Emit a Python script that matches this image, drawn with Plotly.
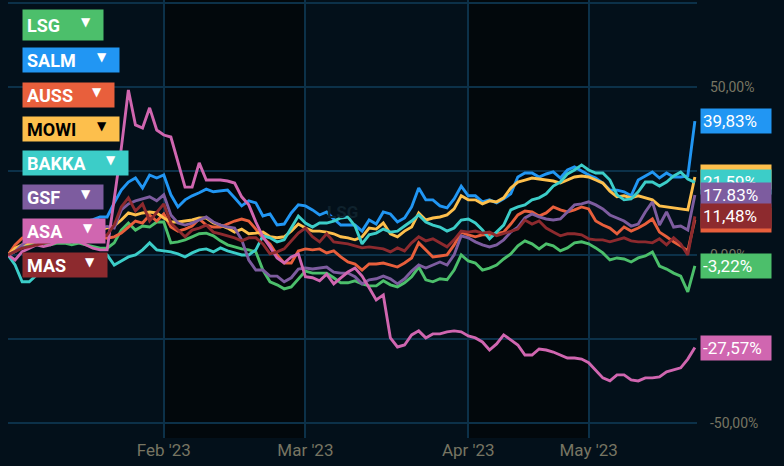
import plotly.graph_objects as go
import pandas as pd

# trading days on Oslo Børs, Jan 2 - May 25 2023
holidays = ["2023-04-06", "2023-04-07", "2023-04-10", "2023-05-01", "2023-05-17", "2023-05-18"]
dates = pd.bdate_range("2023-01-02", "2023-05-25", freq="C", holidays=holidays).strftime("%Y-%m-%d").tolist()

# % change since start
lsg = [0, 1.5, 2.5, 3, 3, 3.5, 3, 3.5, 3.5, 3, 3.5, 3, 2.5, 2, 2,
       3.6, 7.4, 9.5, 7.4, 8.6, 8.3, 9.8, 9.8, 3.6, 3.9, 4.5, 5.4, 6.3, 6.5, 5.7, 4.2, 3.0, 2.4, 1.8, 1.5, 0.9,
       -4.5, -8.0, -8.9, -10.1, -9.5, -7.1, -4.8, -5.4, -5.4, -5.4, -6.8, -8.3, -8.3, -7.7, -8.6, -9.2, -9.2, -7.7,
       -8.9, -9.5, -8.3, -6.5, -3.6, -7.4, -8.0, -7.1, -7.4, -4.5, 0, -1.8, -2.4, -4.5, -3.9, -3.0, -1.2, 0.3, 2.7,
       4.2, 3.3, 1.8, 3.3, 2.7, 1.2, 2.1, 3.6, 3.9, 3.3, 2.1, 0.6, -1.5, -0.9, -1.2, -2.1, -0.9, -0.3, 0.9, -3.3,
       -4.2, -5.4, -6.3, -11.0, -3.22]
salm = [0, 1, 2.5, 4, 5, 6, 7, 7.5, 8, 8.5, 9, 10, 10.5, 11.3, 11.3,
        15.5, 19.3, 21.7, 22.9, 19.9, 23.8, 22.9, 23.8, 17.9, 14.3, 16.4, 17.6, 18.5, 19.6, 18.8, 19.0, 19.3, 17.0, 14.6, 16.1, 15.5,
        11.6, 12.2, 8.9, 9.2, 12.5, 14.9, 14.6, 13.4, 11.9, 12.8, 10.7, 8.9, 8.9, 8.9, 7.1, 10.4, 9.2, 12.8, 12.2, 9.8,
        11.0, 14.3, 19.9, 16.4, 16.4, 14.6, 14.0, 16.7, 20.5, 17.6, 17.6, 15.8, 16.4, 15.5, 16.7, 18.2, 23.2, 24.4,
        24.4, 23.2, 24.1, 24.7, 22.9, 25.3, 26.2, 25.0, 23.8, 22.9, 21.4, 19.3, 19.3, 18.8, 17.6, 22.3, 23.5, 24.7,
        22.9, 24.4, 23.2, 23.2, 23.5, 39.83]
auss = [0, 3, 5, 5.5, 6, 6, 6.5, 7, 7, 6.5, 6, 6, 5.5, 5.5, 5,
        5.4, 6.5, 8.3, 10.1, 9.5, 11.9, 10.1, 12.2, 8.3, 7.1, 7.7, 8.6, 10.7, 8.9, 8.3, 8.3, 9.2, 10.1, 10.7, 10.1, 7.7,
        5.1, 3.3, 0, -2.4, -2.4, 1.2, 1.8, 1.5, 1.8, 0.6, 1.2, -0.6, -2.1, -2.7, -4.5, -2.7, -2.7, -2.4, -3.0, -3.6,
        -2.4, -0.9, 3.6, 1.5, -0.6, -0.3, 0, 3.0, 6.8, 6.0, 5.4, 6.0, 6.0, 6.3, 6.8, 9.2, 11.9, 13.1, 12.8, 11.6,
        12.5, 14.3, 13.4, 12.8, 13.4, 14.3, 13.7, 10.1, 8.9, 8.0, 6.3, 8.3, 7.1, 8.0, 9.2, 10.7, 6.8, 5.4, 3.9, 2.7,
        1.2, 10.5]
mowi = [0, 2, 3, 3.5, 4, 4.5, 5, 5, 5.5, 6, 6.5, 7, 7, 7.5, 8,
        8.6, 10.4, 12.5, 11.9, 12.5, 12.8, 12.5, 11.0, 9.8, 9.8, 10.1, 10.4, 11.0, 11.0, 9.5, 8.9, 8.0, 6.8, 7.7, 6.3, 6.5,
        6.8, 5.4, 5.1, 5.4, 7.1, 9.2, 8.0, 7.1, 7.1, 6.8, 6.3, 5.4, 5.1, 4.5, 5.4, 8.0, 7.7, 9.5, 6.3, 5.4, 7.1, 8.3,
        12.5, 10.4, 11.0, 11.3, 11.9, 13.7, 17.6, 16.4, 16.4, 15.2, 16.1, 15.8, 17.0, 19.9, 21.7, 22.3, 22.9, 22.6,
        22.3, 22.0, 21.4, 22.3, 23.2, 23.5, 23.2, 22.3, 21.4, 19.0, 17.3, 17.6, 17.0, 17.6, 17.0, 16.4, 14.6, 14.3,
        14.0, 13.7, 13.4, 23.2]
bakka = [0, -3.0, -8.0, -8.0, -6.0, -5, -4, -3, -3, -2, -2.5, -1.5, -1, 0, 0,
         -3.0, -1.8, -0.6, 0, 1.5, 3.6, 1.5, 1.2, 0.9, 0.3, -0.6, 0.6, 1.5, 1.8, 0.9, 2.1, 1.2, 0.6, 0, 0, 1.5,
         5.7, 5.1, 3.9, 4.5, 8.0, 11.6, 9.5, 8.3, 9.5, 9.5, 10.1, 11.0, 11.3, 8.6, 3.3, 6.0, 6.5, 7.7, 6.8, 7.1, 8.6,
         10.1, 11.9, 9.8, 8.9, 8.3, 7.1, 8.0, 10.4, 10.7, 9.5, 7.4, 4.8, 6.8, 8.9, 13.4, 14.3, 14.9, 16.4, 17.0, 18.2,
         20.5, 21.7, 24.1, 25.3, 26.8, 25.3, 24.4, 24.4, 22.3, 17.9, 16.4, 16.7, 18.8, 21.7, 21.7, 20.5, 21.7, 23.5,
         24.7, 22.6, 21.59]
gsf = [0, 1, 3, 4.5, 5.5, 6.5, 7.5, 8, 9, 10, 9.5, 9, 8.5, 8, 8.5,
       8.0, 13.4, 15.2, 16.1, 16.7, 17.3, 16.1, 17.9, 11.9, 9.5, 8.9, 9.5, 10.4, 11.3, 9.8, 8.9, 8.3, 8.0, 4.5, -1.5, -4.5,
       -4.5, -6.3, -6.3, -8.0, -6.8, -4.2, -3.9, -4.2, -3.9, -3.6, -5.1, -5.4, -5.4, -6.5, -8.6, -7.4, -7.1, -6.3,
       -7.1, -8.6, -7.1, -4.8, -3.0, -3.9, -3.0, -2.1, -3.0, 0, 5.7, 5.1, 3.9, 3.0, 2.4, 3.0, 4.5, 6.8, 8.3, 11.0,
       12.2, 11.3, 10.7, 10.4, 10.7, 12.8, 14.9, 15.2, 15.8, 14.9, 13.7, 11.9, 11.0, 10.1, 8.6, 9.2, 12.8, 15.8, 8.9,
       12.8, 8.3, 8.6, 7.4, 17.83]
asa = [0, -1.5, 1, 2, 3, 2.5, 3, 4, 6, 5, 4, 3, 2, 1.5, 1.5,
       16.7, 31.8, 49.1, 38.7, 37.8, 43.8, 37.2, 35.7, 35.1, 27.7, 20.2, 20.2, 27.4, 22.3, 22.3, 22.3, 22.0, 21.4, 17.3, 14.9, 9.8,
       5.4, 2.4, -0.9, -2.4, -0.6, 0.3, -6.5, -6.8, -7.7, -5.7, -8.6, -6.8, -5.1, -3.9, -6.3, -9.8, -13.4, -11.9,
       -24.7, -27.4, -26.8, -23.8, -22.6, -24.7, -23.5, -23.5, -22.9, -22.6, -22.9, -24.1, -24.7, -25.9, -28.3,
       -26.5, -23.8, -25.3, -26.8, -29.8, -29.8, -28.0, -28.3, -28.9, -29.8, -30.7, -30.7, -31.0, -32.1, -34.5,
       -36.6, -37.5, -35.7, -35.7, -37.2, -37.5, -36.6, -36.6, -36.3, -34.8, -34.2, -33.6, -31.0, -27.57]
mas = [0, 1, 2, 2.5, 3, 3.5, 4, 4, 4.5, 5, 5, 4.5, 4.5, 5, 6,
       8.9, 14.3, 17.0, 13.1, 15.2, 10.1, 12.5, 15.2, 9.5, 7.4, 5.4, 7.4, 8.0, 8.9, 6.8, 6.3, 5.7, 5.1, 4.2, 5.1, 5.1,
       3.3, 0.3, 0.9, 1.8, 4.2, 6.5, 8.0, 5.4, 3.9, 6.3, 3.9, 3.6, 3.3, 2.7, 2.1, 2.4, 2.1, 1.8, 0.9, 2.1, 1.2, 3.6,
       5.4, 4.2, 4.8, 3.6, 2.4, 4.5, 7.1, 6.8, 7.1, 6.5, 6.8, 5.7, 6.3, 7.1, 7.7, 10.4, 9.2, 10.1, 8.0, 6.8, 5.7,
       6.3, 6.3, 6.0, 4.8, 4.5, 4.5, 3.9, 4.5, 5.1, 4.2, 3.9, 3.9, 3.6, 4.8, 3.0, 5.1, 3.3, 0, 11.48]

names = ["LSG", "SALM", "AUSS", "MOWI", "BAKKA", "GSF", "ASA", "MAS"]
series = [lsg, salm, auss, mowi, bakka, gsf, asa, mas]
colors = ["#4cbf6b", "#2196f3", "#e85f3c", "#fdbf4c", "#3ccdc8", "#7d5c9f", "#d066b0", "#8d2a2e"]
end_labels = ["-3,22%", "39,83%", "10,50%", "23,20%", "21,59%", "17.83%", "-27,57%", "11,48%"]

month_ticks = ["2023-02-01", "2023-03-01", "2023-04-03", "2023-05-02"]
month_text = ["Feb '23", "Mar '23", "Apr '23", "May '23"]

for s in series:
    assert len(s) == len(dates), len(s)

BG = "#03101a"
BAND = "#02080c"
GRID = "#0c3149"
AXIS_TXT = "#777562"

# plot area in pixels (784x466 page)
L, R, T, B = 8, 697, 0, 438


def px(x):
    return (x - L) / (R - L)


def py(y):
    return 1 - (y - T) / (B - T)


fig = go.Figure()
for n, s, c in zip(names, series, colors):
    fig.add_trace(go.Scatter(x=dates, y=s, name=n, mode="lines",
                             line=dict(color=c, width=2.9), showlegend=False))

# darker shading for Feb and Apr
for a, b in [("2023-02-01", "2023-03-01"), ("2023-04-03", "2023-05-02")]:
    fig.add_shape(type="rect", xref="x", yref="paper", x0=a, x1=b, y0=0, y1=1,
                  fillcolor=BAND, line_width=0, layer="below")

ann = []
# watermark
ann.append(dict(text="<b>LSG</b>", xref="paper", yref="paper", x=px(342), y=py(212),
                showarrow=False, font=dict(family="Roboto", size=17, color="#0f222d")))

# legend boxes on the left
legend_boxes = [(10, 40, 80), (48, 72, 96), (83, 107, 91), (117, 141, 96),
                (151, 175, 105), (185, 209, 80), (219, 243, 82), (253, 277, 84)]
for n, c, (y0, y1, w) in zip(names, colors, legend_boxes):
    fg = "#000000" if n == "MOWI" else "#ffffff"
    h = y1 - y0
    ann.append(dict(text="<b>" + n + "</b>", xref="paper", yref="paper",
                    x=px(22), y=py((y0 + y1) / 2), xanchor="left", yanchor="middle",
                    width=w - 8, height=h - 8, align="left", borderpad=4, bgcolor=c,
                    showarrow=False, font=dict(family="Roboto", size=18, color=fg)))
    ann.append(dict(text="▼", xref="paper", yref="paper",
                    x=px(22 + w - 16), y=py((y0 + y1) / 2 - 3), xanchor="center", yanchor="middle",
                    showarrow=False, font=dict(family="DejaVu Sans", size=12, color=fg)))

# last-value labels on the right, drawn in the order that gives the overlaps
for i in [6, 0, 3, 4, 5, 2, 7, 1]:
    ann.append(dict(text=end_labels[i], xref="paper", yref="y",
                    x=px(700), y=series[i][-1], xanchor="left", yanchor="middle",
                    width=66, height=20, align="left", borderpad=2, bgcolor=colors[i],
                    showarrow=False, font=dict(family="Roboto", size=17, color="#ffffff")))

fig.update_layout(
    width=784, height=466,
    margin=dict(l=L, r=784 - R, t=T, b=466 - B),
    paper_bgcolor=BG, plot_bgcolor=BG,
    annotations=ann,
    xaxis=dict(type="category", range=[0, 97.3], tickvals=month_ticks, ticktext=month_text,
               showgrid=True, gridcolor=GRID, gridwidth=1.5, zeroline=False, showline=False,
               ticks="", tickfont=dict(family="Roboto", size=17, color=AXIS_TXT)),
    yaxis=dict(side="right", range=[-54.5, 75.9], tickvals=[-50, 0, 50],
               ticktext=["-50,00%", "0,00%", "50,00%"],
               showgrid=True, gridcolor=GRID, gridwidth=1.5, zeroline=False, showline=False,
               minor=dict(tickvals=[-25, 25, 75], showgrid=True, gridcolor=GRID, gridwidth=1.5),
               ticks="", ticklabelstandoff=12,
               tickfont=dict(family="Roboto", size=14, color=AXIS_TXT)),
)

# page body has a default 8px margin; drop it so the figure sits at the window corner
fig.write_html("out.html", config={"displayModeBar": False},
               post_script="document.body.style.margin='0';document.body.style.background='" + BG + "';")
